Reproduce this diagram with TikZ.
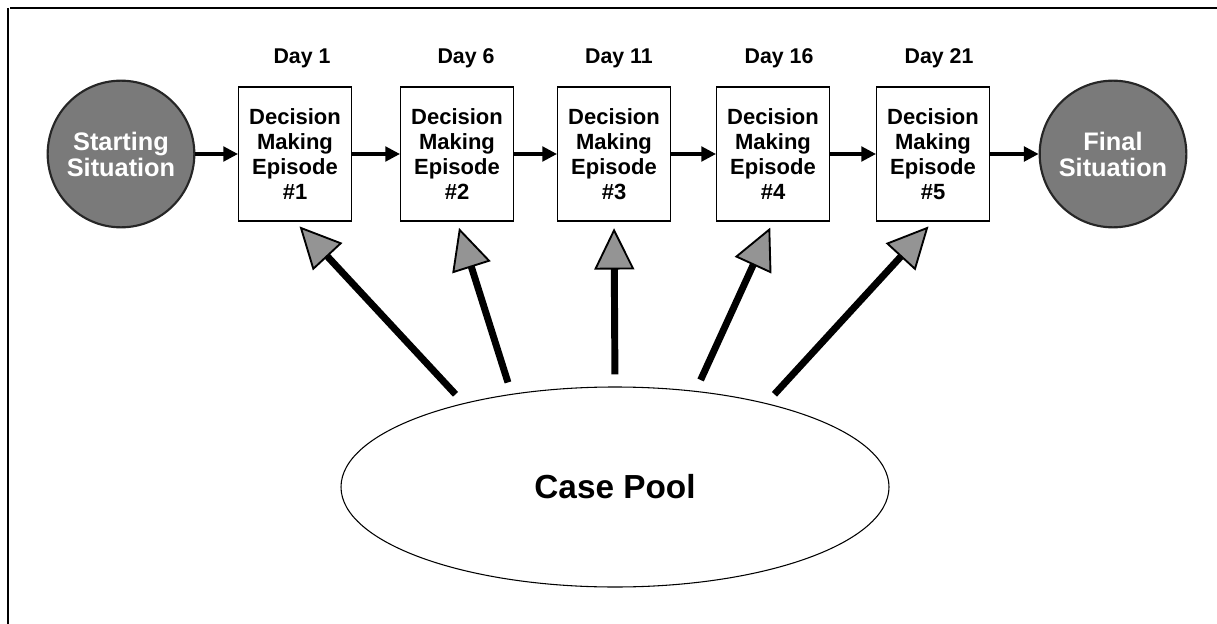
\documentclass[tikz,border=0pt]{standalone}
\usepackage{fontspec}
\setmainfont{Liberation Sans}
\usetikzlibrary{arrows.meta,shapes.geometric,positioning}
\tikzset{>=Triangle,
  episode/.style={draw, line width=0.8pt, fill=white, minimum width=84.75pt, minimum height=100.5pt,
    inner sep=0pt, align=center, font=\bfseries\fontsize{16.5}{18.75}\selectfont},
  situation/.style={circle, draw=black!85, line width=1.6pt, fill=black!52, minimum size=110pt,
    inner sep=0pt, text=white, align=center, font=\bfseries\fontsize{19}{19.5}\selectfont},
  daylabel/.style={font=\bfseries\fontsize{16}{18}\selectfont},
  flow/.style={-{Triangle[length=11pt,width=11pt]}, line width=2.4pt},
  feed/.style={-{Triangle[length=31pt,width=30pt,fill=black!42,line width=1.4pt]}, line width=5.2pt,
    shorten <=9pt, shorten >=5pt},
}
\begin{document}
\begin{tikzpicture}[x=0.75pt,y=-0.75pt]
    \useasboundingbox (0,0) rectangle (1217,624);
    \draw[line width=1.5pt] (10,8) -- (1217,8);
    \draw[line width=1.5pt] (8,8) -- (8,624);
    \node[situation] (start) at (121,154) {Starting\\Situation};
    \node[episode] (ep1) at (295,154) {Decision\\Making\\Episode\\\#1};
    \node[episode] (ep2) at (457,154) {Decision\\Making\\Episode\\\#2};
    \node[episode] (ep3) at (614,154) {Decision\\Making\\Episode\\\#3};
    \node[episode] (ep4) at (773,154) {Decision\\Making\\Episode\\\#4};
    \node[episode] (ep5) at (933,154) {Decision\\Making\\Episode\\\#5};
    \node[situation] (final) at (1113,154) {Final\\Situation};
    \node[daylabel] (day1) at (302,58) {Day 1};
    \node[daylabel] (day6) at (466,58) {Day 6};
    \node[daylabel] (day11) at (619,58) {Day 11};
    \node[daylabel] (day16) at (779,58) {Day 16};
    \node[daylabel] (day21) at (939,58) {Day 21};
    \node[ellipse, draw, line width=0.8pt, minimum width=411pt, minimum height=150pt,
      font=\bfseries\fontsize{25}{28}\selectfont] (pool) at (615,487) {Case Pool};
    \draw[flow] (start) -- (ep1);
    \draw[flow] (ep1) -- (ep2);
    \draw[flow] (ep2) -- (ep3);
    \draw[flow] (ep3) -- (ep4);
    \draw[flow] (ep4) -- (ep5);
    \draw[flow] (ep5) -- (final);
    \draw[feed] (pool.151) -- (ep1.south);
    \draw[feed] (pool.138) -- (ep2.south);
    \draw[feed] (pool.north) -- (ep3.south);
    \draw[feed] (pool.50) -- (ep4.south);
    \draw[feed] (pool.29) -- (ep5.south);
\end{tikzpicture}
\end{document}
